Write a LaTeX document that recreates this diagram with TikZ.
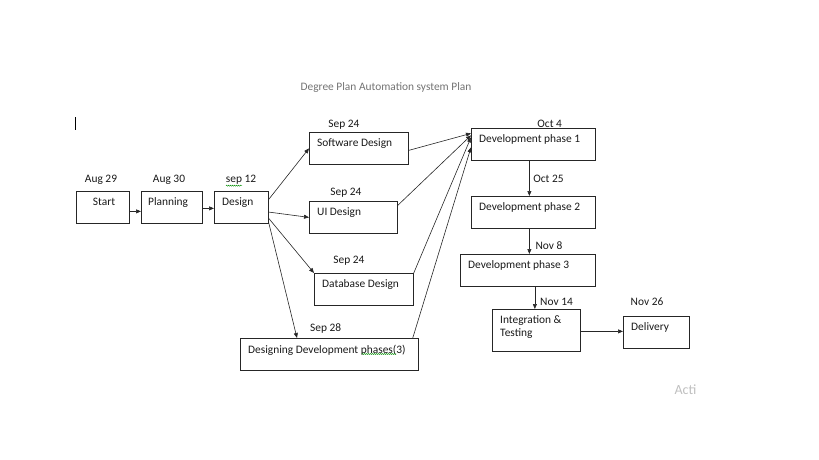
\documentclass[tikz,border=0pt]{standalone}
\usepackage{fontspec}
\setmainfont{Carlito}
\usetikzlibrary{arrows.meta,decorations.pathmorphing}

\tikzset{
  box/.style={draw=black!85,line width=0.75pt,minimum height=32,inner sep=0,anchor=north west},
  boxtext/.style={anchor=north west,inner sep=0,xshift=8,yshift=-6.5,align=left,text=black!90},
  date/.style={anchor=base,inner sep=0,text=black!90},
  arr/.style={draw=black!85,line width=0.6pt,-{Triangle[length=5pt,width=4pt]}},
  squig/.style={green!55!black,line width=0.4pt,decorate,
    decoration={snake,amplitude=0.6pt,segment length=2pt}}
}

\begin{document}
\begin{tikzpicture}[x=1pt,y=-1pt,font=\fontsize{11.4}{13.3}\selectfont]
   \useasboundingbox (0,0) rectangle (819,460);
   \node[anchor=base,inner sep=0,text=black!55] (title) at (386,90.4) {Degree Plan Automation system Plan};
   \draw[line width=0.6pt] (75.7,117) -- (75.7,129.5);

   \node[box,minimum width=53,label={[boxtext,xshift=8.7]north west:Start}] (start) at (76,191) {};
   \node[box,minimum width=61,label={[boxtext,xshift=-1]north west:Planning}] (plan) at (141,191) {};
   \node[box,minimum width=54,label={[boxtext]north west:Design}] (design) at (214,191) {};
   \node[box,minimum width=99,label={[boxtext]north west:Software Design}] (sw) at (309,132) {};
   \node[box,minimum width=88,label={[boxtext]north west:UI Design}] (ui) at (309,201) {};
   \node[box,minimum width=99,label={[boxtext]north west:Database Design}] (db) at (314,273) {};
   \node[box,minimum width=178,label={[boxtext]north west:Designing Development phases(3)}] (ddp) at (240,338) {};
   \node[box,minimum width=124,label={[boxtext]north west:Development phase 1}] (dev1) at (471,128) {};
   \node[box,minimum width=124,label={[boxtext]north west:Development phase 2}] (dev2) at (471,196) {};
   \node[box,minimum width=135,label={[boxtext]north west:Development phase 3}] (dev3) at (460,254) {};
   \node[box,minimum width=88,minimum height=42,label={[boxtext]north west:{Integration \&\\Testing}}] (integ) at (492,309) {};
   \node[box,minimum width=66,label={[boxtext]north west:Delivery}] (deliv) at (623,316) {};

   \node[date] (d-start) at (101,182.4) {Aug 29};
   \node[date] (d-plan) at (169,182.4) {Aug 30};
   \node[date] (d-design) at (241,182.4) {sep 12};
   \node[date] (d-sw) at (344,127) {Sep 24};
   \node[date] (d-ui) at (346,195) {Sep 24};
   \node[date] (d-db) at (349,263.7) {Sep 24};
   \node[date] (d-ddp) at (325.7,331.7) {Sep 28};
   \node[date] (d-dev1) at (549.7,127) {Oct 4};
   \node[date] (d-dev2) at (548.5,182) {Oct 25};
   \node[date] (d-dev3) at (549,249.7) {Nov 8};
   \node[date] (d-integ) at (556.5,305.4) {Nov 14};
   \node[date] (d-deliv) at (647,305.4) {Nov 26};
   \node[date,text=black!25,font=\fontsize{14}{16}\selectfont] (acti) at (685.5,394) {Acti};

   \draw[squig] (226,185.7) -- (242,185.7);
   \draw[squig] (361.7,354) -- (396.7,354);

   \draw[arr] ([yshift=-4]start.east) -- ([yshift=-4]plan.west);
   \draw[arr] ([yshift=-1]plan.east) -- ([yshift=-1]design.west);
   \draw[arr] ([yshift=8]design.east) -- (sw.west);
   \draw[arr] ([yshift=-4.7]design.east) -- (ui.west);
   \draw[arr] ([yshift=-11]design.east) -- (db.north west);
   \draw[arr] ([yshift=1]design.south east) -- ([xshift=57]ddp.north west);
   \draw[arr] ([yshift=-2]sw.east) -- ([yshift=11]dev1.west);
   \draw[arr] ([yshift=12]ui.east) -- ([yshift=9]dev1.west);
   \draw[arr] (db.north east) -- ([yshift=7]dev1.west);
   \draw[arr] ([xshift=-6]ddp.north east) -- ([yshift=-3]dev1.west);
   \draw[arr] ([xshift=-4]dev1.south) -- ([xshift=-4]dev2.north);
   \draw[arr] ([xshift=-4]dev2.south) -- ([xshift=1.5]dev3.north);
   \draw[arr] ([xshift=7]dev3.south) -- ([xshift=-1.5]integ.north);
   \draw[arr] ([yshift=-1]integ.east) -- ([yshift=1]deliv.west);
\end{tikzpicture}
\end{document}
